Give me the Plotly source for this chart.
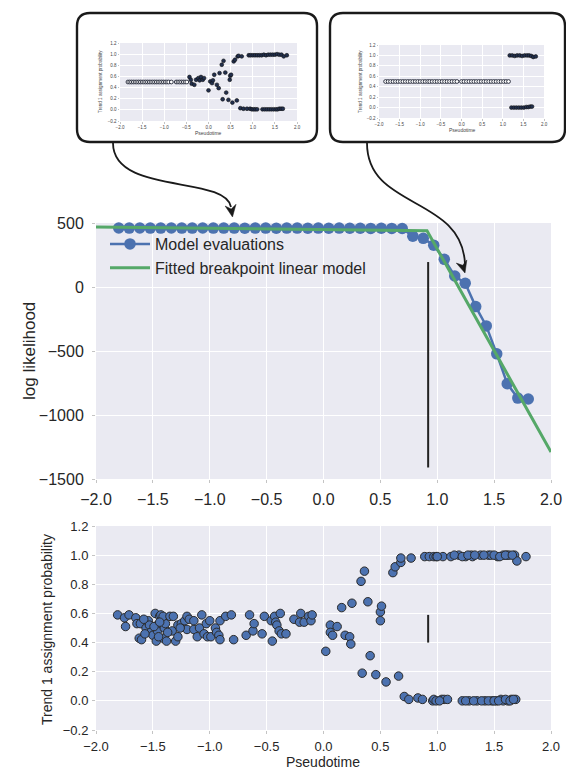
import plotly.graph_objects as go

W, H = 566, 769
FONT = "Liberation Sans, Arial, sans-serif"
BLUE = "#4C72B0"
GREEN = "#55A868"
BG = "#EAEAF2"
TXT = "#262626"

# ---------------- data ----------------
eval_x = [-1.8, -1.708, -1.615, -1.523, -1.431, -1.338, -1.246, -1.154, -1.062, -0.969,
          -0.877, -0.785, -0.692, -0.6, -0.508, -0.415, -0.323, -0.231, -0.138, -0.046,
          0.046, 0.138, 0.231, 0.323, 0.415, 0.508, 0.6, 0.692, 0.785, 0.877,
          0.969, 1.062, 1.154, 1.246, 1.338, 1.431, 1.523, 1.615, 1.708, 1.8]
eval_y = [461, 460, 461, 460, 460, 461, 460, 460, 461, 460,
          460, 460, 459, 460, 460, 459, 460, 460, 459, 460,
          459, 460, 459, 459, 458, 459, 458, 457, 397, 380,
          327, 216, 86, 29, -153, -304, -522, -756, -868, -875]

fit_x = [-2.0, 0.91, 2.0]
fit_y = [469, 440, -1290]

break_x = [0.92, 0.92]
break_y_main = [-1410, 195]
break_y_prob = [0.40, 0.59]

prob_x = [-1.81, -1.75, -1.71, -1.74, -1.65, -1.64, -1.61, -1.62, -1.60, -1.56,
          -1.54, -1.53, -1.52, -1.50, -1.48, -1.47, -1.46, -1.46, -1.44, -1.43,
          -1.42, -1.41, -1.40, -1.39, -1.38, -1.41, -1.35, -1.32, -1.33, -1.30,
          -1.28, -1.28, -1.25, -1.22, -1.20, -1.18, -1.20, -1.14, -1.14, -1.11,
          -1.09, -1.07, -1.05, -1.03, -1.02, -1.00, -0.99, -0.95, -0.94, -0.92,
          -0.91, -0.91, -0.86, -0.81, -0.79, -0.68, -0.65, -0.62, -0.61, -0.54,
          -0.52, -0.46, -0.45, -0.43, -0.42, -0.41, -0.39, -0.38, -0.37, -0.33,
          -0.26, -0.21, -0.20, -0.17, -0.13, -0.11, -0.10, -1.57, -1.49, -1.45,
          -1.37, -1.26, -1.58, -1.44,
          0.02, 0.06, 0.06, 0.08, 0.12, 0.16, 0.19, 0.23, 0.24, 0.25,
          0.33, 0.34, 0.36, 0.39, 0.41, 0.46, 0.50, 0.50, 0.51, 0.55,
          0.61, 0.63, 0.66, 0.68, 0.68, 0.71, 0.75, 0.77, 0.83, 0.87,
          0.89, 0.93, 0.96, 0.97, 0.97, 0.99, 1.04, 1.05, 1.06, 1.09,
          1.12, 1.19, 1.22, 1.25, 1.28, 1.30, 1.31, 1.35, 1.38, 1.42,
          1.45, 1.47, 1.48, 1.52, 1.53, 1.56, 1.58, 1.58, 1.61, 1.62,
          1.63, 1.65, 1.68, 1.69, 1.70, 1.78,
          1.00, 1.15, 1.22, 1.27, 1.33, 1.41, 1.50, 1.55, 1.60, 1.66,
          1.25, 1.32, 1.39, 1.45, 1.50, 1.54, 1.60, 1.64, 1.67, 0.99, 1.02]
prob_y = [0.59, 0.57, 0.59, 0.51, 0.57, 0.53, 0.53, 0.43, 0.42, 0.50,
          0.55, 0.52, 0.47, 0.45, 0.60, 0.41, 0.52, 0.48, 0.58, 0.59,
          0.55, 0.43, 0.50, 0.53, 0.41, 0.58, 0.58, 0.58, 0.48, 0.41,
          0.44, 0.52, 0.53, 0.55, 0.58, 0.56, 0.49, 0.49, 0.55, 0.44,
          0.50, 0.59, 0.46, 0.53, 0.44, 0.55, 0.44, 0.50, 0.47, 0.45,
          0.42, 0.55, 0.58, 0.59, 0.42, 0.45, 0.59, 0.48, 0.53, 0.46,
          0.58, 0.55, 0.41, 0.58, 0.54, 0.52, 0.48, 0.60, 0.46, 0.46,
          0.56, 0.54, 0.60, 0.54, 0.58, 0.55, 0.59, 0.46, 0.51, 0.44,
          0.47, 0.50, 0.56, 0.54,
          0.34, 0.52, 0.47, 0.45, 0.51, 0.64, 0.45, 0.44, 0.39, 0.67,
          0.82, 0.19, 0.89, 0.68, 0.31, 0.18, 0.55, 0.61, 0.65, 0.13,
          0.88, 0.92, 0.17, 0.95, 0.98, 0.03, 0.01, 0.98, 0.02, 0.01,
          0.99, 0.99, 0.00, 0.99, 0.01, 0.99, 0.01, 0.99, 0.01, 0.01,
          0.99, 1.00, 0.00, 0.99, 0.00, 1.00, 0.99, 0.00, 1.00, 0.00,
          1.00, 1.00, 0.00, 0.00, 0.99, 0.01, 1.00, 0.00, 1.00, 0.00,
          1.00, 0.01, 1.00, 0.01, 0.96, 0.99,
          0.99, 1.00, 0.99, 1.00, 1.00, 1.00, 1.00, 0.99, 1.00, 1.00,
          0.00, 0.00, 0.00, 0.00, 0.00, 0.00, 0.01, 0.00, 0.01, 0.00, 0.00]

# inset 1 (earlier iteration)
ins1_const_x = [-1.82, -1.78, -1.74, -1.70, -1.66, -1.62, -1.58, -1.54, -1.50, -1.46,
                -1.42, -1.38, -1.34, -1.30, -1.26, -1.22, -1.18, -1.14, -1.10, -1.06,
                -1.02, -0.98, -0.94, -0.90, -0.84, -0.73, -0.69, -0.65, -0.61, -0.57,
                -0.53, -0.49]
ins1_const_y = [0.5, 0.5, 0.5, 0.5, 0.5, 0.5, 0.5, 0.5, 0.5, 0.5,
                0.5, 0.5, 0.5, 0.5, 0.5, 0.5, 0.5, 0.5, 0.5, 0.5,
                0.5, 0.5, 0.5, 0.5, 0.5, 0.5, 0.5, 0.5, 0.5, 0.5,
                0.5, 0.5]
ins1_x = [-0.43, -0.40, -0.38, -0.32, -0.28, -0.23, -0.20, -0.17, -0.13, -0.10,
          0.0, 0.04, 0.08, 0.10, 0.13, 0.19, 0.23, 0.25, 0.30, 0.34,
          0.32, 0.38, 0.40, 0.45, 0.48, 0.49, 0.51, 0.54, 0.57, 0.60,
          0.64, 0.66, 0.68, 0.72, 0.75, 0.79, 0.87, 0.91, 0.94,
          0.95, 1.00, 1.05, 1.10, 1.15, 1.20, 1.25, 1.30, 1.35, 1.40,
          1.45, 1.50, 1.55, 1.60, 1.65, 1.70, 1.77,
          0.98, 1.02, 1.06, 1.10, 1.22, 1.27, 1.32, 1.37, 1.42, 1.47,
          1.52, 1.56, 1.60, 1.64, 1.68]
ins1_y = [0.59, 0.54, 0.47, 0.45, 0.54, 0.57, 0.53, 0.59, 0.54, 0.57,
          0.35, 0.51, 0.48, 0.53, 0.63, 0.45, 0.39, 0.66, 0.81, 0.88,
          0.19, 0.67, 0.31, 0.18, 0.54, 0.61, 0.63, 0.13, 0.87, 0.90,
          0.17, 0.96, 0.97, 0.03, 0.96, 0.02, 0.02, 0.98, 0.02,
          0.98, 0.98, 0.98, 0.98, 0.98, 0.98, 0.99, 0.98, 0.99, 0.99,
          0.99, 0.99, 1.00, 0.99, 0.99, 0.96, 0.98,
          0.01, 0.01, 0.01, 0.01, 0.01, 0.01, 0.01, 0.01, 0.01, 0.01,
          0.01, 0.01, 0.02, 0.02, 0.02]

# inset 2 (converged iteration)
ins2_const_x = [-1.84, -1.78, -1.72, -1.66, -1.60, -1.54, -1.48, -1.42, -1.36, -1.30,
                -1.24, -1.18, -1.12, -1.06, -1.00, -0.94, -0.88, -0.82, -0.77,
                -0.71, -0.65, -0.59, -0.53, -0.47, -0.41, -0.35, -0.29, -0.23, -0.17,
                -0.11, 0.00, 0.06, 0.12, 0.18, 0.24, 0.30, 0.36, 0.42, 0.48,
                0.54, 0.60, 0.66, 0.72, 0.78, 0.84, 0.90, 0.96, 1.02, 1.08, 1.14]
ins2_const_y = [0.5, 0.5, 0.5, 0.5, 0.5, 0.5, 0.5, 0.5, 0.5, 0.5,
                0.5, 0.5, 0.5, 0.5, 0.5, 0.5, 0.5, 0.5, 0.5,
                0.5, 0.5, 0.5, 0.5, 0.5, 0.5, 0.5, 0.5, 0.5, 0.5,
                0.5, 0.5, 0.5, 0.5, 0.5, 0.5, 0.5, 0.5, 0.5, 0.5,
                0.5, 0.5, 0.5, 0.5, 0.5, 0.5, 0.5, 0.5, 0.5, 0.5, 0.5]
ins2_x = [1.17, 1.23, 1.29, 1.35, 1.41, 1.47, 1.53, 1.59, 1.64, 1.69, 1.74, 1.80,
          1.21, 1.27, 1.33, 1.39, 1.45, 1.51, 1.57, 1.62, 1.67, 1.71]
ins2_y = [1.00, 1.00, 0.99, 1.00, 1.00, 0.99, 1.00, 1.00, 1.00, 0.99, 0.97, 0.98,
          0.00, 0.00, 0.00, 0.00, 0.00, 0.00, 0.01, 0.01, 0.02, 0.02]

main_xticks = [-2.0, -1.5, -1.0, -0.5, 0.0, 0.5, 1.0, 1.5, 2.0]
main_yticks = [-1500, -1000, -500, 0, 500]
prob_yticks = [-0.2, 0.0, 0.2, 0.4, 0.6, 0.8, 1.0, 1.2]


# ---------------- helpers (pixel -> paper) ----------------
def fx(x):
    return x / W


def fy(y):
    return 1 - y / H


def P(x, y):
    return f"{fx(x):.5f},{fy(y):.5f}"


def rrect(x0, y0, x1, y1, r):
    return (f"M {P(x0 + r, y0)} L {P(x1 - r, y0)} Q {P(x1, y0)} {P(x1, y0 + r)} "
            f"L {P(x1, y1 - r)} Q {P(x1, y1)} {P(x1 - r, y1)} "
            f"L {P(x0 + r, y1)} Q {P(x0, y1)} {P(x0, y1 - r)} "
            f"L {P(x0, y0 + r)} Q {P(x0, y0)} {P(x0 + r, y0)} Z")


def head(tx, ty, dx, dy, L=12, Wd=5.5, notch=8):
    n = (dx * dx + dy * dy) ** 0.5
    dx, dy = dx / n, dy / n
    bx, by = tx - dx * L, ty - dy * L
    nx, ny = -dy, dx
    return (f"M {P(tx, ty)} L {P(bx + nx * Wd, by + ny * Wd)} "
            f"L {P(tx - dx * notch, ty - dy * notch)} "
            f"L {P(bx - nx * Wd, by - ny * Wd)} Z")


fig = go.Figure()

# main chart traces
fig.add_trace(go.Scatter(x=eval_x, y=eval_y, mode="lines+markers", name="Model evaluations",
                         line=dict(color=BLUE, width=2.5),
                         marker=dict(color=BLUE, size=11.5), xaxis="x", yaxis="y",
                         cliponaxis=False))
fig.add_trace(go.Scatter(x=fit_x, y=fit_y, mode="lines", name="Fitted breakpoint linear model",
                         line=dict(color=GREEN, width=3), xaxis="x", yaxis="y"))
fig.add_trace(go.Scatter(x=break_x, y=break_y_main, mode="lines", showlegend=False,
                         line=dict(color="#222222", width=2), xaxis="x", yaxis="y"))

# bottom chart
fig.add_trace(go.Scatter(x=prob_x, y=prob_y, mode="markers", showlegend=False,
                         marker=dict(color=BLUE, size=8.5, line=dict(color="#2a2a2a", width=1)),
                         xaxis="x2", yaxis="y2"))
fig.add_trace(go.Scatter(x=break_x, y=break_y_prob, mode="lines", showlegend=False,
                         line=dict(color="#222222", width=2), xaxis="x2", yaxis="y2"))

# inset 1
fig.add_trace(go.Scatter(x=ins1_const_x, y=ins1_const_y, mode="markers", showlegend=False,
                         marker=dict(color="white", size=3.8, line=dict(color="#1e2233", width=0.9)),
                         xaxis="x3", yaxis="y3"))
fig.add_trace(go.Scatter(x=ins1_x, y=ins1_y, mode="markers", showlegend=False,
                         marker=dict(color="#22304f", size=3.8, line=dict(color="#111111", width=0.6)),
                         xaxis="x3", yaxis="y3"))
# inset 2
fig.add_trace(go.Scatter(x=ins2_const_x, y=ins2_const_y, mode="markers", showlegend=False,
                         marker=dict(color="white", size=3.8, line=dict(color="#1e2233", width=0.9)),
                         xaxis="x4", yaxis="y4"))
fig.add_trace(go.Scatter(x=ins2_x, y=ins2_y, mode="markers", showlegend=False,
                         marker=dict(color="#22304f", size=3.8, line=dict(color="#111111", width=0.6)),
                         xaxis="x4", yaxis="y4"))

common = dict(showgrid=True, gridcolor="white", zeroline=False, showline=False,
              ticks="outside", tickcolor="#c4c4c4", tickwidth=1, automargin=False)

xdom = [fx(96), fx(551)]
fig.update_layout(
    width=W, height=H, autosize=False, margin=dict(l=0, r=0, t=0, b=0, pad=0),
    paper_bgcolor="white", plot_bgcolor=BG,
    font=dict(family=FONT, color=TXT),
    showlegend=True,
    legend=dict(x=fx(105), y=fy(227), xanchor="left", yanchor="top",
                bgcolor="rgba(0,0,0,0)", font=dict(size=16, color=TXT),
                itemwidth=40, tracegroupgap=0),
    xaxis=dict(domain=xdom, range=[-2, 2], tickvals=main_xticks, tickformat=".1f",
               anchor="y", ticklen=3, gridwidth=1.3, tickfont=dict(size=16),
               ticklabelstandoff=3, **common),
    yaxis=dict(domain=[fy(479), fy(223)], range=[-1500, 500], tickvals=main_yticks,
               anchor="x", ticklen=3, gridwidth=1.3, tickfont=dict(size=16),
               ticklabelstandoff=5, **common),
    xaxis2=dict(domain=xdom, range=[-2, 2], tickvals=main_xticks, tickformat=".1f",
                anchor="y2", ticklen=3, gridwidth=1.2, tickfont=dict(size=13),
                ticklabelstandoff=1, **common),
    yaxis2=dict(domain=[fy(730), fy(526)], range=[-0.2, 1.2], tickvals=prob_yticks,
                tickformat=".1f", anchor="x2", ticklen=3, gridwidth=1.2,
                tickfont=dict(size=13), ticklabelstandoff=1, **common),
    xaxis3=dict(domain=[fx(120), fx(297)], range=[-2, 2], tickvals=main_xticks, tickformat=".1f",
                anchor="y3", ticklen=1.5, gridwidth=0.7, tickfont=dict(size=4.5, color="#444"), **common),
    yaxis3=dict(domain=[fy(121), fy(43)], range=[-0.2, 1.2], tickvals=prob_yticks, tickformat=".1f",
                anchor="x3", ticklen=1.5, gridwidth=0.7, tickfont=dict(size=4.5, color="#444"), **common),
    xaxis4=dict(domain=[fx(379), fx(544)], range=[-2, 2], tickvals=main_xticks, tickformat=".1f",
                anchor="y4", ticklen=1.5, gridwidth=0.7, tickfont=dict(size=4.5, color="#444"), **common),
    yaxis4=dict(domain=[fy(118), fy(45)], range=[-0.2, 1.2], tickvals=prob_yticks, tickformat=".1f",
                anchor="x4", ticklen=1.5, gridwidth=0.7, tickfont=dict(size=4.5, color="#444"), **common),
)

# axis titles as annotations
ann = [
    dict(text="log likelihood", x=fx(29), y=fy(351), textangle=-90, font=dict(size=17)),
    dict(text="Trend 1 assignment probability", x=fx(47), y=fy(629), textangle=-90, font=dict(size=14)),
    dict(text="Pseudotime", x=fx(323), y=fy(762), font=dict(size=14)),
    dict(text="Trend 1 assignment probability", x=fx(101), y=fy(82), textangle=-90,
         font=dict(size=4.6, color="#444")),
    dict(text="Pseudotime", x=fx(208), y=fy(133), font=dict(size=5, color="#444")),
    dict(text="Trend 1 assignment probability", x=fx(361), y=fy(82), textangle=-90,
         font=dict(size=4.6, color="#444")),
    dict(text="Pseudotime", x=fx(462), y=fy(130), font=dict(size=5, color="#444")),
]
for a in ann:
    fig.add_annotation(xref="paper", yref="paper", showarrow=False,
                       xanchor="center", yanchor="middle", **a)

# rounded boxes around the insets
shapes = [
    dict(type="path", path=rrect(77, 13, 317, 142, 13), line=dict(color="#1a1a1a", width=2.4)),
    dict(type="path", path=rrect(330, 13, 565, 142, 13), line=dict(color="#1a1a1a", width=2.4)),
    # curved arrows
    dict(type="path", path=f"M {P(113, 143)} C {P(113, 195)} {P(225, 175)} {P(231, 207)}",
         line=dict(color="#1a1a1a", width=1.8)),
    dict(type="path", path=head(232.5, 217, 6, 37), fillcolor="#1a1a1a",
         line=dict(color="#1a1a1a", width=0.5)),
    dict(type="path", path=f"M {P(367, 143)} C {P(367, 210)} {P(462, 195)} {P(465, 264)}",
         line=dict(color="#1a1a1a", width=1.8)),
    dict(type="path", path=head(465, 273, 0.3, 1), fillcolor="#1a1a1a",
         line=dict(color="#1a1a1a", width=0.5)),
]
for s in shapes:
    fig.add_shape(xref="paper", yref="paper", layer="above", **s)

fig.write_html("out.html")
